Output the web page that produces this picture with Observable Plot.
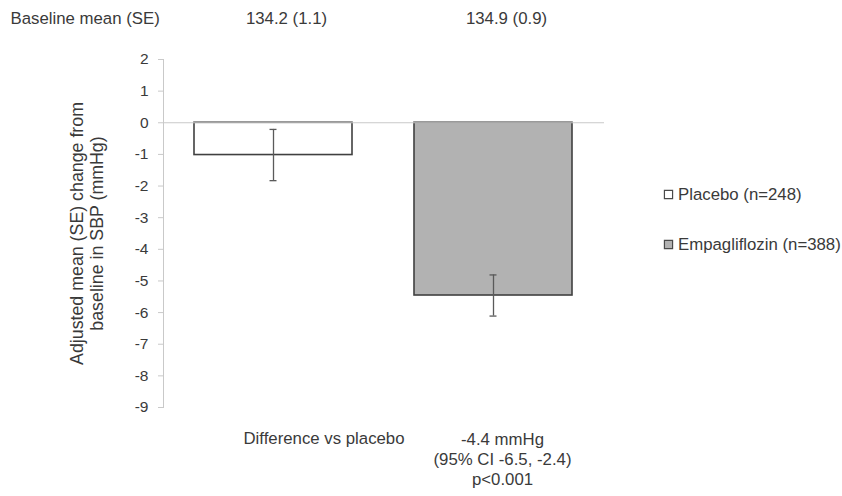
<!DOCTYPE html>
<html>
<head>
<meta charset="utf-8">
<script src="https://cdn.jsdelivr.net/npm/d3@7"></script>
<script src="https://cdn.jsdelivr.net/npm/@observablehq/plot@0.6"></script>
<style>
  html, body { margin: 0; padding: 0; background: #fff; }
  #chart svg { display: block; }
</style>
</head>
<body>
<div id="chart"></div>
<script>
// Treatment groups and their adjusted mean change in SBP (mmHg) with SE
const groups = ["Placebo", "Empagliflozin"];
const legendLabels = ["Placebo (n=248)", "Empagliflozin (n=388)"];
const meanChange = [-1.02, -5.46];
const seChange = [0.81, 0.65];
const baselineLabels = ["134.2 (1.1)", "134.9 (0.9)"];
const fills = ["#ffffff", "#b2b2b2"];
const yTicks = [2, 1, 0, -1, -2, -3, -4, -5, -6, -7, -8, -9];
const diffLines = ["-4.4 mmHg", "(95% CI -6.5, -2.4)", "p<0.001"];

const rows = groups.map((g, i) => ({
  group: g,
  label: legendLabels[i],
  mean: meanChange[i],
  lo: meanChange[i] - seChange[i],
  hi: meanChange[i] + seChange[i],
  baseline: baselineLabels[i],
  fill: fills[i]
}));

const font = "'Liberation Sans', Arial, Helvetica, sans-serif";
const ink = "#3a3a3a";
const fs = 16.8;

// one legend entry: swatch + label, stacked down the right margin
const legendEntry = (row, i) => [
  Plot.dot([row], {
    frameAnchor: "top-right", dx: 64, dy: 135 + 50 * i,
    symbol: "square", r: 4.6, fill: "fill", stroke: "#4a4a4a", strokeWidth: 1.2
  }),
  Plot.text([row], {
    frameAnchor: "top-right", dx: 73.5, dy: 135 + 50 * i, lineAnchor: "middle",
    text: "label", textAnchor: "start", fill: ink, fontSize: fs
  })
];

const chart = Plot.plot({
  width: 842,
  height: 496,
  marginLeft: 163,
  marginRight: 238,
  marginTop: 59,
  marginBottom: 89,
  style: {fontFamily: font, fontSize: fs + "px", color: ink, background: "#fff", overflow: "visible"},
  x: {domain: groups, paddingInner: 0.28, paddingOuter: 0.14, axis: null},
  y: {domain: [-9, 2], axis: null},
  marks: [
    // value axis
    Plot.frame({anchor: "left", stroke: "#c9c9c9"}),
    Plot.axisY({
      ticks: yTicks, tickFormat: (d) => String(d), tickSize: 5, tickPadding: 10,
      stroke: "#c9c9c9", fill: ink, fontSize: 15.5, label: null
    }),
    // bars
    Plot.barY(rows, {x: "group", y: "mean", fill: "fill", stroke: "#404040", strokeWidth: 1.6}),
    // zero baseline
    Plot.ruleY([0], {stroke: "#c9c9c9", strokeWidth: 1.2}),
    // SE error bars with caps
    Plot.ruleX(rows, {x: "group", y1: "lo", y2: "hi", stroke: "#5a5a5a", strokeWidth: 1.3}),
    Plot.tickY(rows, {x: "group", y: "lo", stroke: "#5a5a5a", strokeWidth: 1.3, insetLeft: 75.5, insetRight: 75.5}),
    Plot.tickY(rows, {x: "group", y: "hi", stroke: "#5a5a5a", strokeWidth: 1.3, insetLeft: 75.5, insetRight: 75.5}),
    // y axis title
    Plot.text(["Adjusted mean (SE) change from\nbaseline in SBP (mmHg)"], {
      frameAnchor: "left", dx: -77, dy: 0, rotate: -90, lineHeight: 1.15, lineAnchor: "middle",
      fill: ink, fontSize: 17.8, textAnchor: "middle"
    }),
    // baseline row
    Plot.text(["Baseline mean (SE)"], {
      frameAnchor: "top-left", dx: -153, dy: -41, lineAnchor: "middle", textAnchor: "start", fill: ink, fontSize: fs
    }),
    Plot.text(rows, {
      x: "group", text: "baseline", frameAnchor: "top", dx: 13, dy: -41, lineAnchor: "middle", fill: ink, fontSize: fs
    }),
    // difference row
    Plot.text(["Difference vs placebo"], {
      frameAnchor: "bottom-left", dx: 160.5, dy: 31, lineAnchor: "middle", textAnchor: "middle", fill: ink, fontSize: fs
    }),
    Plot.text([diffLines.join("\n")], {
      x: () => groups[1], frameAnchor: "bottom", dx: 9, dy: 51, lineHeight: 1.19, lineAnchor: "middle",
      textAnchor: "middle", fill: ink, fontSize: fs
    }),
    // legend
    ...rows.flatMap(legendEntry)
  ]
});

document.getElementById("chart").appendChild(chart);
</script>
</body>
</html>
